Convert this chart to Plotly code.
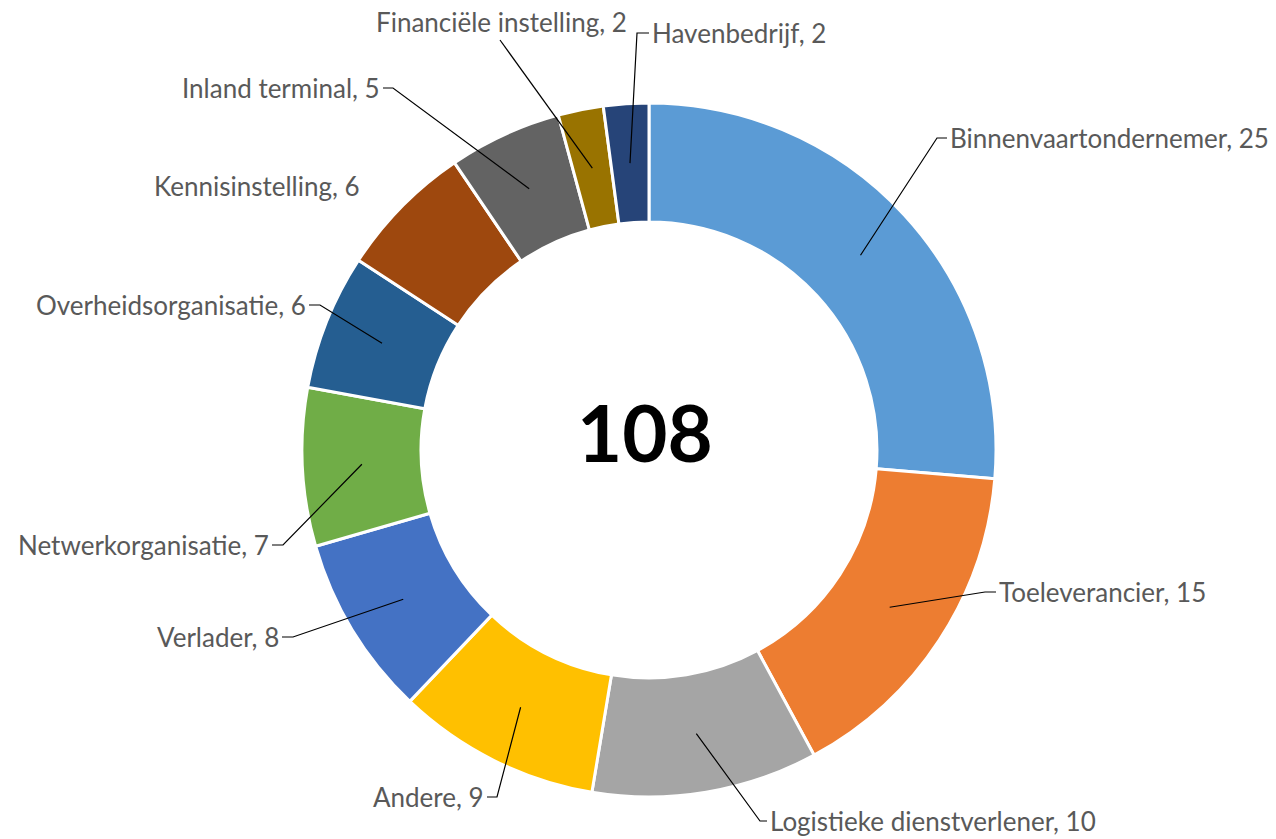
import math
import plotly.graph_objects as go

# ---- data ----
categories = ["Binnenvaartondernemer", "Toeleverancier", "Logistieke dienstverlener",
              "Andere", "Verlader", "Netwerkorganisatie", "Overheidsorganisatie",
              "Kennisinstelling", "Inland terminal", "Financiële instelling", "Havenbedrijf"]
values = [25, 15, 10, 9, 8, 7, 6, 6, 5, 2, 2]
colors = ["#5B9BD5", "#ED7D31", "#A5A5A5", "#FFC000", "#4472C4", "#70AD47",
          "#255E91", "#9E480E", "#636363", "#997300", "#264478"]
center_label = "108"

# ---- layout constants (pixels) ----
W, H = 1276, 839
CX, CY, R_OUT = 649, 450, 347
HOLE = 0.657
R_MID = R_OUT * (1 + HOLE) / 2

# label placement: (anchor side, text x, text y, elbow x, elbow y) ; None elbow = no leader line
label_place = [
    ("left", 948, 138, 937, 138),
    ("left", 997, 592, 985, 592),
    ("left", 768, 821, 760, 821),
    ("right", 486, 797, 497, 797),
    ("right", 281, 637, 293, 637),
    ("right", 271, 545, 283, 545),
    ("right", 308, 305, 320, 305),
    ("right", 362, 186, None, None),
    ("right", 382, 88, 393, 88),
    ("center", 501, 22, 500, 40),
    ("left", 650, 33, 637, 33),
]


def px(x, y):
    return x / W, 1 - y / H


fig = go.Figure()
fig.add_trace(go.Pie(
    labels=categories, values=values, sort=False, direction="clockwise", rotation=0,
    hole=HOLE, textinfo="none", hoverinfo="label+value",
    marker=dict(colors=colors, line=dict(color="white", width=3)),
    domain=dict(x=[(CX - R_OUT) / W, (CX + R_OUT) / W],
                y=[1 - (CY + R_OUT) / H, 1 - (CY - R_OUT) / H]),
    showlegend=False,
))

total = sum(values)
annotations = []
shapes = []
cum = 0
for cat, v, (side, tx, ty, ex, ey) in zip(categories, values, label_place):
    mid = (cum + v / 2) / total * 2 * math.pi
    cum += v
    sx = CX + R_MID * math.sin(mid)
    sy = CY - R_MID * math.cos(mid)
    ax, ay = px(tx, ty)
    annotations.append(dict(
        x=ax, y=ay, xref="paper", yref="paper", text=f"{cat}, {v}", showarrow=False,
        xanchor=side, yanchor="middle",
        font=dict(family="Lato", size=26, color="#595959")))
    if ex is not None:
        pts = [(sx, sy), (ex, ey)]
        if side == "left":
            pts.append((tx - 1, ty))
        elif side == "right":
            pts.append((tx + 1, ty))
        path = "M " + " L ".join(f"{px(a, b)[0]:.5f},{px(a, b)[1]:.5f}" for a, b in pts)
        shapes.append(dict(type="path", path=path, xref="paper", yref="paper",
                           line=dict(color="black", width=1.2)))

cx_, cy_ = px(CX - 4, 432)
annotations.append(dict(x=cx_, y=cy_, xref="paper", yref="paper", text=f"<b>{center_label}</b>",
                        showarrow=False, xanchor="center", yanchor="middle",
                        font=dict(family="Lato", size=78, color="black")))

fig.update_layout(
    width=W, height=H, margin=dict(l=0, r=0, t=0, b=0),
    paper_bgcolor="white", plot_bgcolor="white",
    annotations=annotations, shapes=shapes,
)
fig.write_html("out.html", config={"displayModeBar": False},
               post_script="document.body.style.margin='0';document.body.style.overflow='hidden';")
